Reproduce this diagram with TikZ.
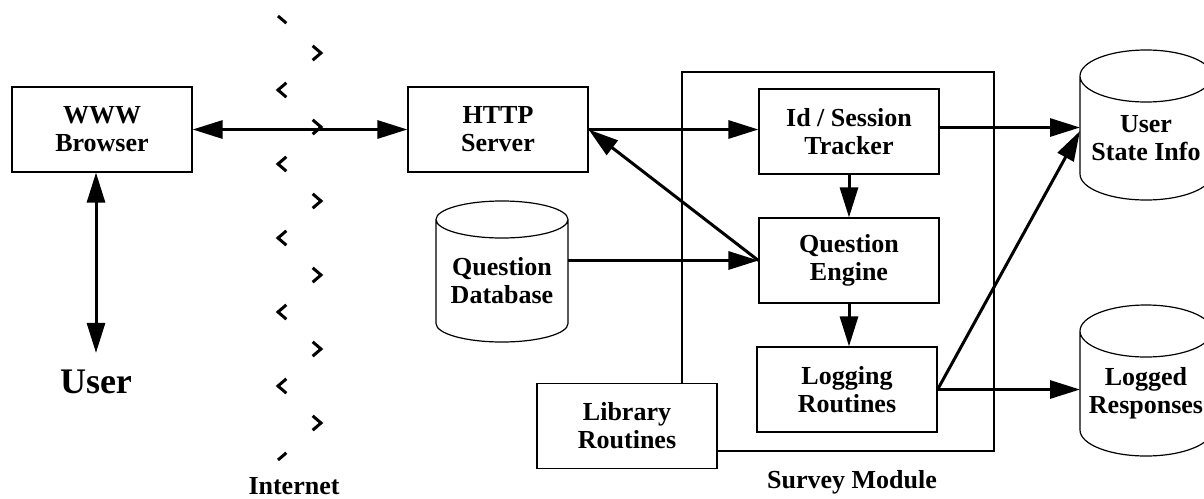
\documentclass[tikz,border=0pt]{standalone}
\usepackage{fontspec}
\setmainfont{Liberation Serif}
\usetikzlibrary{positioning, arrows.meta}
\newcommand{\boxfont}{\fontsize{26}{28}\selectfont\bfseries}
\newcommand{\userfont}{\fontsize{36}{40}\selectfont\bfseries}
% cylinder outline round a store node: #1 node name, #2 radius of the end ellipses
\newcommand{\drum}[2]{%
  \draw[line width=1.2pt] (#1.north west) -- ([yshift=#2]#1.south west)
    arc[start angle=180, end angle=360, x radius=66pt, y radius=#2] -- (#1.north east)
    arc[start angle=0, end angle=180, x radius=66pt, y radius=#2]
    arc[start angle=180, end angle=360, x radius=66pt, y radius=#2];}

\begin{document}
\begin{tikzpicture}[x=1pt, y=-1pt,
    box/.style={draw, line width=1.2pt, fill=white, minimum width=180pt, minimum height=85pt, align=center, font=\boxfont},
    store/.style={minimum width=132pt, outer sep=0pt, align=center, font=\boxfont},
    link/.style={line width=3pt, -{Triangle[length=30pt, width=18pt]}},
    both/.style={line width=3pt, {Triangle[length=30pt, width=18pt]}-{Triangle[length=30pt, width=18pt]}},
    inet/.style={line width=3pt, dash pattern=on 22pt off 34.73pt, dash phase=11pt}]
    \useasboundingbox (0,0) rectangle (1204,498);

    % survey module frame
    \node (survey) [draw, line width=1.2pt, minimum width=312pt, minimum height=379pt] at (838,261.5) {};
    \node [font=\boxfont, anchor=base] at (852,488) {Survey Module};

    \node (browser) [box] at (102,129.5) {WWW\\Browser};
    \node (user) [font=\userfont, anchor=base] at (96,393) {User};
    \node (http) [box] at (498,129.5) {HTTP\\Server};
    \node (tracker) [box] at (849,131.5) {Id / Session\\Tracker};
    \node (engine) [box] at (849,260.5) {Question\\Engine};
    \node (logging) [box] at (847,389.5) {Logging\\Routines};
    \node (library) [box] at (627,426) {Library\\Routines};

    % data stores
    \node (qdb) [store, minimum height=122.5pt] at (502,280.75) {Question\\Database};
    \node (usr) [store, minimum height=124pt] at (1146,138) {User\\State Info};
    \node (logged) [store, minimum height=125pt] at (1146,393.5) {Logged\\Responses};
    \drum{qdb}{18.5pt}
    \drum{usr}{26pt}
    \drum{logged}{26pt}

    % the internet
    \draw[inet] (278,16) \foreach \k in {1,...,12} { -- ({278+43*mod(\k,2)}, {16+37*\k}) };
    \node (net) [font=\boxfont, anchor=base] at (294,494) {Internet};

    \draw[both] (browser) -- (http);
    \draw[both] (user |- browser.south) -- ([yshift=13pt]user.north);
    \draw[link] (http.east) -- (http.east -| tracker.west);
    \draw[link] (engine.west) -- (http.east);
    \draw[link] (qdb.east |- engine.west) -- (engine.west);
    \draw[link] (tracker) -- (engine);
    \draw[link] (engine.south) -- (engine.south |- logging.north);
    \draw[link] ([yshift=4pt]tracker.east) -- ([yshift=4pt]tracker.east -| usr.west);
    \draw[link] (logging.east) -- ([yshift=7pt]usr.west);
    \draw[link] (logging.east) -- (logging.east -| logged.west);
\end{tikzpicture}
\end{document}
